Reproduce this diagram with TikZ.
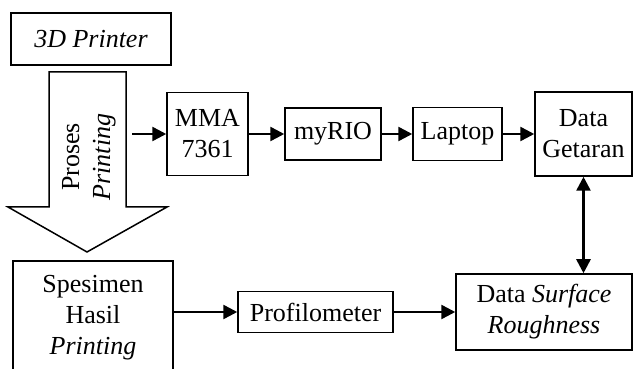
\documentclass[tikz,border=0pt]{standalone}
\usepackage{fontspec}
\setmainfont{Liberation Serif}
\usetikzlibrary{arrows.meta}

\begin{document}
\begin{tikzpicture}[
    x=0.5pt, y=-0.5pt,
    block/.style={draw, line width=0.75pt, align=center, inner sep=1pt,
                  font=\fontsize{13}{15.5}\selectfont},
    arrow/.style={line width=1.3pt,
                  -{Triangle[length=7pt, width=7pt]}},
    twoway/.style={line width=1.3pt,
                  {Triangle[length=7pt, width=7pt]}-{Triangle[length=7pt, width=7pt]}}
]
\useasboundingbox (0,0) rectangle (633,369);

\node[block, minimum width=80pt, minimum height=26pt] (printer) at (91,39)
    {\textit{3D Printer}};

% panah besar proses printing
\draw[line width=0.75pt] (49,72) -- (126,72) -- (126,207) -- (167,207)
    -- (87,252) -- (8,207) -- (49,207) -- cycle;
\node[rotate=90, align=center, font=\fontsize{13}{15.5}\selectfont] (proses)
    at (89,157) {Proses\\\textit{Printing}};
\coordinate (shaft) at (132,134);

\node[block, minimum width=40.5pt, minimum height=41.5pt] (mma) at (207.5,134)
    {MMA\\7361};
\node[block, minimum width=48pt, minimum height=26pt] (myrio) at (333,134)
    {myRIO};
\node[block, minimum width=44.5pt, minimum height=26.5pt] (laptop) at (457.5,134)
    {Laptop};
\node[block, minimum width=48.5pt, minimum height=42pt] (getaran) at (583.5,134)
    {Data\\Getaran};

\node[block, minimum width=80pt, minimum height=57pt] (spesimen) at (93,318)
    {Spesimen\\Hasil\\\textit{Printing}};
\node[block, minimum width=77.5pt, minimum height=20.5pt] (profil) at (315.5,312)
    {Profilometer};
\node[block, minimum width=88pt, minimum height=38pt] (surface) at (544,312)
    {Data \textit{Surface}\\\textit{Roughness}};

\draw[arrow] (shaft) -- (mma.west);
\draw[arrow] (mma) -- (myrio);
\draw[arrow] (myrio) -- (laptop);
\draw[arrow] (laptop) -- (getaran);
\draw[arrow] (spesimen.east |- profil.west) -- (profil.west);
\draw[arrow] (profil) -- (surface);
\draw[twoway] (getaran.south) -- (surface.north -| getaran.south);
\end{tikzpicture}
\end{document}
